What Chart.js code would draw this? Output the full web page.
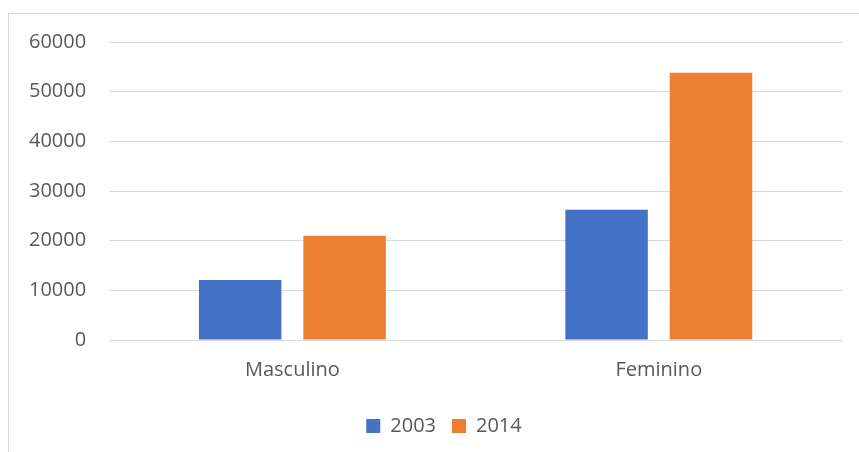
<!DOCTYPE html>
<html>
<head>
<meta charset="utf-8">
<script src="https://cdn.jsdelivr.net/npm/chart.js@4/dist/chart.umd.min.js"></script>
<style>
  html, body { margin: 0; padding: 0; background: #fff; }
  #frame {
    position: absolute; left: 8px; top: 13px; width: 900px; height: 500px;
    border-left: 1px solid #d9d9d9; border-top: 1px solid #d9d9d9;
  }
  #wrap { position: absolute; left: 0; top: 0; width: 859px; height: 452px; }
</style>
</head>
<body>
<div id="frame"></div>
<div id="wrap"><canvas id="myChart"></canvas></div>
<script>
// categories and series
var categories = ["Masculino", "Feminino"];
var seriesNames = ["2003", "2014"];
var values2003 = [12100, 26200];
var values2014 = [21000, 53800];
var yTicks = [0, 10000, 20000, 30000, 40000, 50000, 60000];

// legend is centred under the plot area, not the whole canvas
const legendShift = {
  id: "legendShift",
  afterLayout(chart) {
    chart.legend.left += 40;
  },
};

var ctx = document.getElementById("myChart").getContext("2d");
var chart = new Chart(ctx, {
  type: "bar",
  data: {
    labels: categories,
    datasets: [
      {
        label: seriesNames[0],
        backgroundColor: "#4472C4",
        data: values2003,
        categoryPercentage: 0.57,
        barPercentage: 0.79,
      },
      {
        label: seriesNames[1],
        backgroundColor: "#ED7D31",
        data: values2014,
        categoryPercentage: 0.57,
        barPercentage: 0.79,
      },
    ],
  },
  options: {
    responsive: true,
    maintainAspectRatio: false,
    animation: false,
    layout: { padding: { left: 6, right: 17, top: 42, bottom: 6 } },
    plugins: {
      tooltip: { enabled: false },
      legend: {
        position: "bottom",
        labels: {
          boxWidth: 14,
          boxHeight: 14,
          padding: 16,
          color: "#595959",
          font: { family: "'Open Sans'", size: 20 },
        },
      },
    },
    scales: {
      x: {
        grid: { display: false, drawTicks: false },
        border: { display: true, color: "#d9d9d9", width: 1 },
        ticks: {
          color: "#595959",
          padding: 18,
          font: { family: "'Open Sans'", size: 20 },
        },
      },
      y: {
        min: 0,
        max: 60000,
        afterBuildTicks: (axis) => {
          axis.ticks = yTicks.map((v) => ({ value: v }));
        },
        grid: { color: "#d9d9d9", lineWidth: 1, drawTicks: false },
        border: { display: false },
        ticks: {
          color: "#595959",
          padding: 23,
          font: { family: "'Open Sans'", size: 20 },
          callback: (value) => String(value),
        },
      },
    },
  },
  plugins: [legendShift],
});
</script>
</body>
</html>
